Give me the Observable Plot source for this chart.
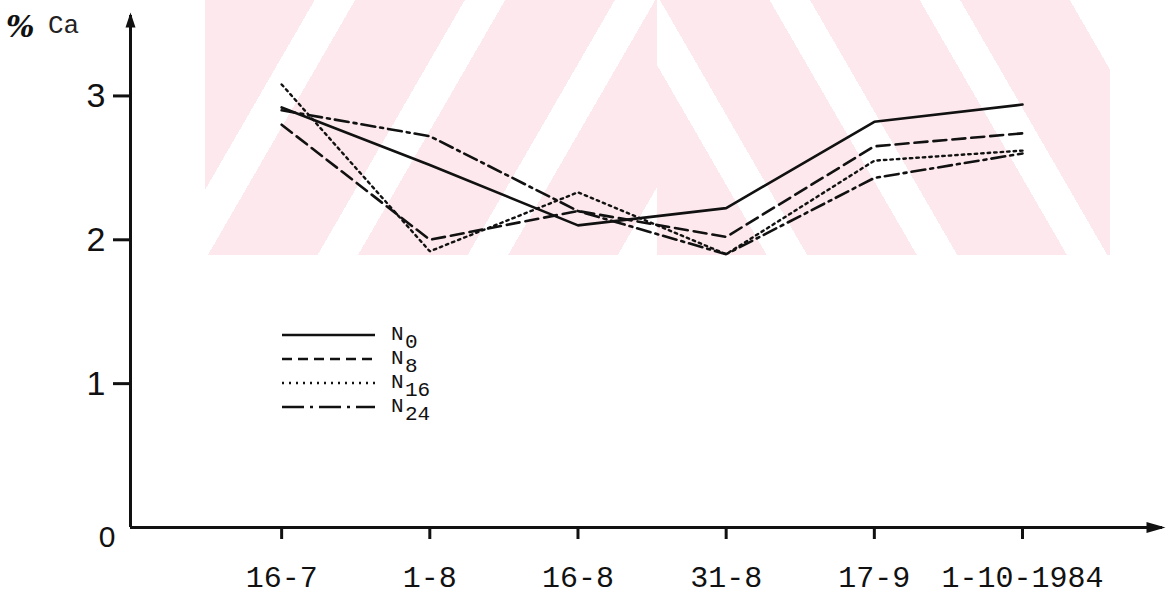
<!DOCTYPE html>
<html><head><meta charset="utf-8">
<script src="https://cdn.jsdelivr.net/npm/d3@7"></script>
<script src="https://cdn.jsdelivr.net/npm/@observablehq/plot@0.6"></script>
<style>
html,body{margin:0;padding:0;background:#fff;}
#wrap{position:relative;width:1169px;height:600px;overflow:hidden;background:#fff;}
#wm{position:absolute;left:205px;top:0;width:905px;height:255px;}
#wm .l{position:absolute;left:0;top:0;width:453px;height:255px;
  background:repeating-linear-gradient(120deg,#fde9ed 0 95px,#ffffff 95px 130px);}
#wm .r{position:absolute;left:452px;top:0;width:453px;height:255px;
  background:repeating-linear-gradient(60deg,#fde9ed 0 95px,#ffffff 95px 130px);background-position:right top;}
#chart{position:absolute;left:0;top:0;}
#ttl{position:absolute;left:0;top:0;width:200px;height:50px;}
#leg{position:absolute;left:0;top:0;}
</style></head>
<body><div id="wrap"><div id="wm"><div class="l"></div><div class="r"></div></div><div id="chart"></div><svg id="ttl"></svg><svg id="leg" width="1169" height="600"></svg></div>
<script>
// ---- data ----
const dates = ["16-7", "1-8", "16-8", "31-8", "17-9", "1-10-1984"];
const N0  = [2.92, 2.52, 2.10, 2.22, 2.82, 2.94];
const N8  = [2.80, 2.00, 2.20, 2.02, 2.65, 2.74];
const N16 = [3.08, 1.92, 2.33, 1.90, 2.55, 2.62];
const N24 = [2.90, 2.72, 2.20, 1.90, 2.43, 2.60];
const yTicks = [1, 2, 3];
const seriesNames = ["0", "8", "16", "24"];

const rows = vals => vals.map((v, i) => ({i, date: dates[i], v}));

const xDom = [-1.02, 5.965];
const yDom = [0, 3.58];

const arrowUp = {draw(ctx) { ctx.moveTo(0, 0); ctx.lineTo(-5, 15); ctx.lineTo(5, 15); ctx.closePath(); }};
const arrowRight = {draw(ctx) { ctx.moveTo(0, 0); ctx.lineTo(-19, -5.5); ctx.lineTo(-19, 5.5); ctx.closePath(); }};

const base = {x: "i", y: "v", stroke: "#111", strokeWidth: 2.6, strokeLinejoin: "miter"};
const intFmt = d3.format("d");

const chart = Plot.plot({
  width: 1169, height: 600,
  marginLeft: 130, marginRight: 4, marginTop: 12, marginBottom: 73,
  style: {background: "transparent", color: "#111"},
  x: {type: "linear", domain: xDom, axis: null},
  y: {domain: yDom, axis: null},
  marks: [
    Plot.line(rows(N0), {...base}),
    Plot.line(rows(N8), {...base, strokeDasharray: "13,6"}),
    Plot.line(rows(N16), {...base, strokeWidth: 2.4, strokeDasharray: "2.5,4"}),
    Plot.line(rows(N24), {...base, strokeDasharray: "14,5,3,5"}),
    Plot.ruleX([xDom[0]], {y1: 0, y2: yDom[1] - 0.02, stroke: "#111", strokeWidth: 3}),
    Plot.ruleY([0], {x1: xDom[0], x2: xDom[1] - 0.02, stroke: "#111", strokeWidth: 3}),
    Plot.dot([{x: xDom[0], y: yDom[1]}], {x: "x", y: "y", symbol: arrowUp, fill: "#111", stroke: null, r: 5}),
    Plot.dot([{x: xDom[1], y: 0}], {x: "x", y: "y", symbol: arrowRight, fill: "#111", stroke: null, r: 5}),
    Plot.axisX(d3.range(dates.length), {anchor: "bottom", tickFormat: i => dates[i], tickSize: 12, tickPadding: 26,
      fontSize: 30, fontFamily: "Liberation Mono", strokeWidth: 3, stroke: "#111", fill: "#111"}),
    Plot.axisY(yTicks, {anchor: "left", tickFormat: intFmt, tickSize: 17, tickPadding: 8, fontSize: 34, fontFamily: "Liberation Sans",
      strokeWidth: 3, stroke: "#111", fill: "#111"}),
    Plot.axisY([0], {anchor: "left", tickFormat: intFmt, tickSize: 0, tickPadding: 15, dy: 10, fontSize: 30, fontFamily: "Liberation Sans", fill: "#111"})
  ]
});
document.getElementById("chart").appendChild(chart);

// ---- y axis title "% Ca" ----
const ttl = d3.select("#ttl");
ttl.append("text").attr("x", 6).attr("y", 37).attr("font-family", "DejaVu Serif").attr("font-weight", "bold")
  .attr("font-style", "italic").attr("font-size", 30).attr("fill", "#111").attr("textLength", 26).text("%");
ttl.append("text").attr("x", 48).attr("y", 33).attr("font-family", "Liberation Mono").attr("font-size", 26)
  .attr("fill", "#222").text("Ca");

// ---- legend ----
const dashes = [null, "10,6", "2,5", "22,6,3,6"];
const leg = d3.select("#leg");
seriesNames.forEach((s, k) => {
  const y = 335 + 24 * k;
  leg.append("line").attr("x1", 282).attr("x2", 375).attr("y1", y).attr("y2", y)
    .attr("stroke", "#111").attr("stroke-width", 2.4).attr("stroke-dasharray", dashes[k]);
  leg.append("text").attr("x", 391).attr("y", y + 5).attr("font-family", "Liberation Mono")
    .attr("font-size", 21).attr("fill", "#111").text("N");
  leg.append("text").attr("x", 405).attr("y", y + 13).attr("font-family", "Liberation Mono")
    .attr("font-size", 21).attr("fill", "#111").text(s);
});
</script>
</body></html>
